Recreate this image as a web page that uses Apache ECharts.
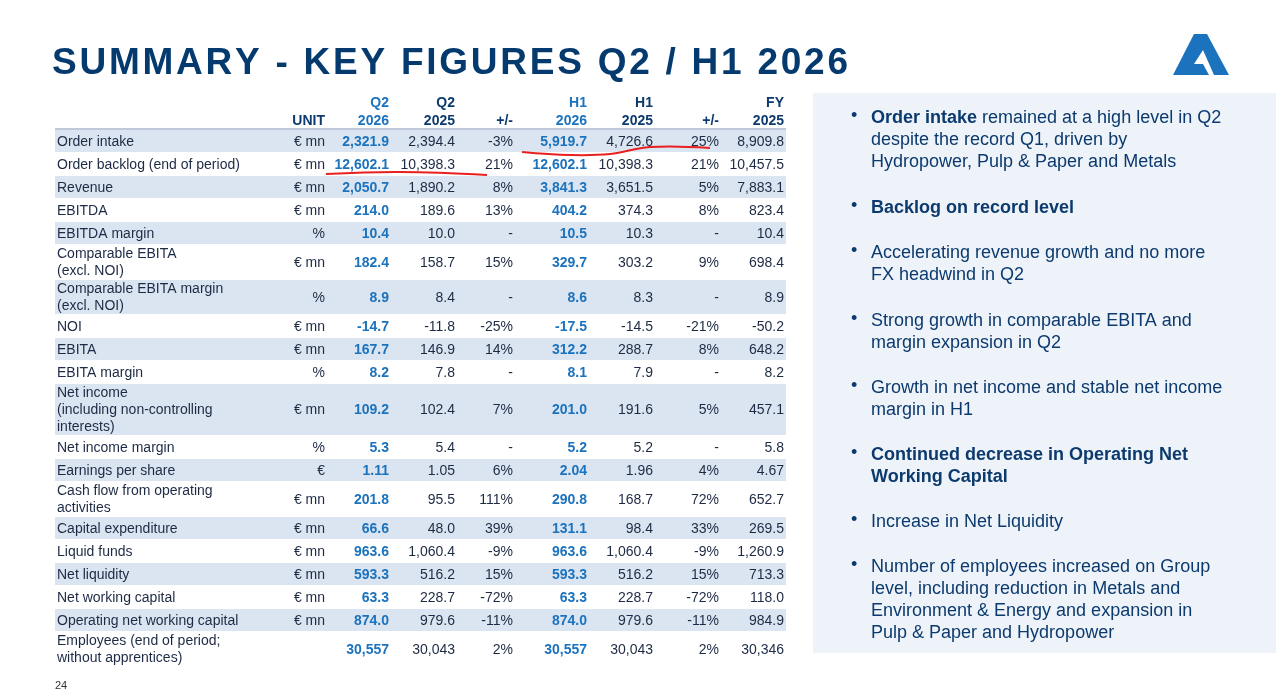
<!DOCTYPE html>
<html><head><meta charset="utf-8">
<script src="https://cdn.jsdelivr.net/npm/echarts@6/dist/echarts.min.js"></script>
<style>html,body{margin:0;padding:0;background:#fff}#c{width:1276px;height:698px}</style>
</head><body><div id="c"></div>
<script>
const title = "SUMMARY - KEY FIGURES Q2 / H1 2026";
const headTop = ["", "", "Q2", "Q2", "", "H1", "H1", "", "FY"];
const headBot = ["", "UNIT", "2026", "2025", "+/-", "2026", "2025", "+/-", "2025"];
const labels = ["Order intake","Order backlog (end of period)","Revenue","EBITDA","EBITDA margin","Comparable EBITA\n(excl. NOI)","Comparable EBITA margin\n(excl. NOI)","NOI","EBITA","EBITA margin","Net income\n(including non-controlling\ninterests)","Net income margin","Earnings per share","Cash flow from operating\nactivities","Capital expenditure","Liquid funds","Net liquidity","Net working capital","Operating net working capital","Employees (end of period;\nwithout apprentices)"];
const units = ["€ mn","€ mn","€ mn","€ mn","%","€ mn","%","€ mn","€ mn","%","€ mn","%","€","€ mn","€ mn","€ mn","€ mn","€ mn","€ mn",""];
const q2_2026 = ["2,321.9","12,602.1","2,050.7","214.0","10.4","182.4","8.9","-14.7","167.7","8.2","109.2","5.3","1.11","201.8","66.6","963.6","593.3","63.3","874.0","30,557"];
const q2_2025 = ["2,394.4","10,398.3","1,890.2","189.6","10.0","158.7","8.4","-11.8","146.9","7.8","102.4","5.4","1.05","95.5","48.0","1,060.4","516.2","228.7","979.6","30,043"];
const q2_chg = ["-3%","21%","8%","13%","-","15%","-","-25%","14%","-","7%","-","6%","111%","39%","-9%","15%","-72%","-11%","2%"];
const h1_2026 = ["5,919.7","12,602.1","3,841.3","404.2","10.5","329.7","8.6","-17.5","312.2","8.1","201.0","5.2","2.04","290.8","131.1","963.6","593.3","63.3","874.0","30,557"];
const h1_2025 = ["4,726.6","10,398.3","3,651.5","374.3","10.3","303.2","8.3","-14.5","288.7","7.9","191.6","5.2","1.96","168.7","98.4","1,060.4","516.2","228.7","979.6","30,043"];
const h1_chg = ["25%","21%","5%","8%","-","9%","-","-21%","8%","-","5%","-","4%","72%","33%","-9%","15%","-72%","-11%","2%"];
const fy_2025 = ["8,909.8","10,457.5","7,883.1","823.4","10.4","698.4","8.9","-50.2","648.2","8.2","457.1","5.8","4.67","652.7","269.5","1,260.9","713.3","118.0","984.9","30,346"];
const bullets = [
 [["Order intake",1],[" remained at a high level in Q2\ndespite the record Q1, driven by\nHydropower, Pulp & Paper and Metals",0]],
 [["Backlog on record level",1]],
 [["Accelerating revenue growth and no more\nFX headwind in Q2",0]],
 [["Strong growth in comparable EBITA and\nmargin expansion in Q2",0]],
 [["Growth in net income and stable net income\nmargin in H1",0]],
 [["Continued decrease in Operating Net\nWorking Capital",1]],
 [["Increase in Net Liquidity",0]],
 [["Number of employees increased on Group\nlevel, including reduction in Metals and\nEnvironment & Energy and expansion in\nPulp & Paper and Hydropower",0]]
];
const bulletY = [107,197,242,310,377,444,511,556];

const F = "Liberation Sans, Arial, sans-serif";
const NAVY = "#0c3a6e", BLUE = "#1b72bd", TXT = "#1d2a44", SHADE = "#dbe5f1";
const cols = [null, units, q2_2026, q2_2025, q2_chg, h1_2026, h1_2025, h1_chg, fy_2025];
const colX = [57, 325, 389, 455, 513, 587, 653, 719, 784];
const blueCol = [false,false,true,false,false,true,false,false,false];
const g = [];
{
  const tf = 'bold 37px ' + F;
  const ctx = document.createElement('canvas').getContext('2d');
  ctx.font = tf;
  const w = [...title].map(ch => ctx.measureText(ch).width);
  const total = w.reduce((a,b)=>a+b,0);
  const sp = (796 - total) / (title.length - 1);
  let x = 52;
  [...title].forEach((ch,i)=>{
    g.push({type:'text',x:x,y:45,style:{text:ch,font:tf,fill:'#053a6f'}});
    x += w[i] + sp;
  });
}
g.push({type:'polygon',shape:{points:[[1194,34],[1207,34],[1229,75],[1173,75]]},style:{fill:'#1b72bd'}});
g.push({type:'polygon',shape:{points:[[1203,50],[1214,75],[1209,75],[1203,64],[1194,64]]},style:{fill:'#fff'}});
for (let c=1;c<9;c++){
  const col = blueCol[c]?BLUE:NAVY;
  g.push({type:'text',x:colX[c],y:96,style:{text:headTop[c],font:'bold 14px '+F,fill:col,align:'right'}});
  g.push({type:'text',x:colX[c],y:114,style:{text:headBot[c],font:'bold 14px '+F,fill:col,align:'right'}});
}
g.push({type:'line',shape:{x1:55,y1:129,x2:786,y2:129},style:{stroke:'#7f93b5',lineWidth:1}});
let y = 130;
labels.forEach((lab,i)=>{
  const n = lab.split('\n').length;
  const h = n===1?23:(n===2?35:52);
  if (i%2===0) g.push({type:'rect',shape:{x:55,y:y,width:731,height:h-1},style:{fill:SHADE}});
  const cy = y + (h-1)/2;
  g.push({type:'text',x:57,y:cy+1,style:{text:lab,font:'14px '+F,fill:TXT,verticalAlign:'middle',lineHeight:17}});
  for (let c=1;c<9;c++){
    g.push({type:'text',x:colX[c],y:cy+1,style:{text:cols[c][i],font:(blueCol[c]?'bold ':'')+'14px '+F,fill:blueCol[c]?BLUE:TXT,align:'right',verticalAlign:'middle'}});
  }
  y += h;
});
g.push({type:'polyline',shape:{points:[[326,174],[400,172],[487,175]],smooth:0.4},style:{stroke:'#e8201f',lineWidth:2,fill:null}});
g.push({type:'polyline',shape:{points:[[522,152],[570,155],[610,154],[650,147],[710,148]],smooth:0.4},style:{stroke:'#e8201f',lineWidth:2,fill:null}});
g.push({type:'rect',shape:{x:813,y:93,width:463,height:560},style:{fill:'#eef3f9'}});
bullets.forEach((b,i)=>{
  g.push({type:'text',x:851,y:bulletY[i],style:{text:'•',font:'18px '+F,fill:NAVY}});
  const rich = {b:{font:'bold 18px '+F,fill:NAVY,lineHeight:22},n:{font:'18px '+F,fill:NAVY,lineHeight:22}};
  const txt = b.map(([t,bold])=>t.split('\n').map(s=>s?`{${bold?'b':'n'}|${s}}`:'').join('\n')).join('');
  g.push({type:'text',x:871,y:bulletY[i],style:{text:txt,rich:rich,font:'18px '+F,fill:NAVY,lineHeight:22}});
});
g.push({type:'text',x:55,y:680,style:{text:'24',font:'11px '+F,fill:'#333'}});
const chart = echarts.init(document.getElementById('c'));
chart.setOption({animation:false,graphic:g});
</script></body></html>
